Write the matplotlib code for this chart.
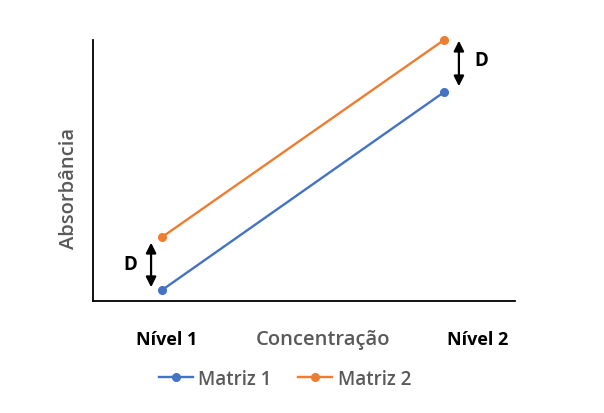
import matplotlib.pyplot as plt

plt.rcParams['font.family'] = ['Open Sans', 'DejaVu Sans']

# dados (unidades arbitrárias)
niveis = [1, 2]
matriz1 = [0.042, 0.80]
matriz2 = [0.245, 1.0]
rotulos = ['Nível 1', 'Nível 2']
pos_rotulos = [1.018, 2.12]

cinza = '#595959'

fig = plt.figure(figsize=(6.04, 4.14), dpi=100)
ax = fig.add_axes([93/604, 1-302/414, 422/604, 261/414])

ax.plot(niveis, matriz1, marker='o', color='#4472C4', lw=1.7, ms=5.5, label='Matriz 1', clip_on=False)
ax.plot(niveis, matriz2, marker='o', color='#ED7D31', lw=1.7, ms=5.5, label='Matriz 2', clip_on=False)

ax.set_xlim(0.755, 2.252)
ax.set_ylim(0, 1.0)

# setas D
seta = dict(arrowstyle='<|-|>', color='black', lw=1.6, mutation_scale=15)
ax.annotate('', xy=(0.961, 0.042), xytext=(0.961, 0.234), arrowprops=seta, annotation_clip=False)
ax.annotate('', xy=(2.053, 0.812), xytext=(2.053, 1.008), arrowprops=seta, annotation_clip=False)
ax.text(0.887, 0.142, 'D', fontsize=13.5, fontweight='bold', ha='center', va='center')
ax.text(2.131, 0.923, 'D', fontsize=13.5, fontweight='bold', ha='center', va='center')

ax.set_xticks(pos_rotulos)
ax.set_xticklabels(rotulos, fontsize=13, fontweight='bold')
ax.tick_params(axis='x', length=0, pad=21)
ax.set_yticks([])

for s in ['top', 'right']:
    ax.spines[s].set_visible(False)
ax.spines['left'].set_linewidth(1.3)
ax.spines['bottom'].set_linewidth(1.3)

ax.set_xlabel('Concentração', fontsize=14.5, color=cinza, fontweight='semibold')
ax.xaxis.set_label_coords(0.545, -0.108)
ax.set_ylabel('Absorbância', fontsize=14.5, color=cinza, fontweight='semibold')
ax.yaxis.set_label_coords(-0.033, 0.437)

fig.legend(loc='center', bbox_to_anchor=(285/604, 1-380/414), ncol=2, frameon=False,
           labelcolor=cinza, handlelength=1.8, handletextpad=0.3,
           columnspacing=1.4, prop={'weight': 'semibold', 'size': 13.5})

fig.savefig('out.png', dpi=100)
